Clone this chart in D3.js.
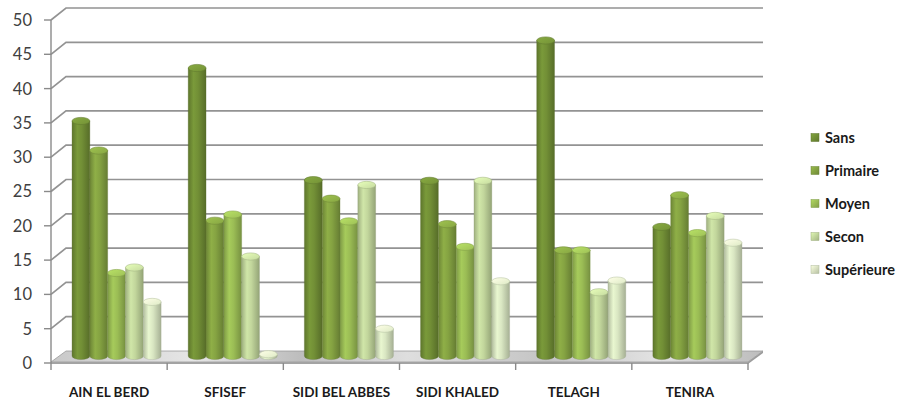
<!DOCTYPE html>
<html>
<head>
<meta charset="utf-8">
<script src="https://cdn.jsdelivr.net/npm/d3@7/dist/d3.min.js"></script>
<style>
  html, body { margin: 0; padding: 0; background: #ffffff; }
  svg { display: block; }
</style>
</head>
<body>
<svg id="chart" width="899" height="401"></svg>
<script>
// Communes and education levels (share of population, %)
const categories = ["AIN EL BERD", "SFISEF", "SIDI BEL ABBES", "SIDI KHALED", "TELAGH", "TENIRA"];
const seriesNames = ["Sans", "Primaire", "Moyen", "Secon", "Supérieure"];
const sans       = [34.8, 42.5, 26.2, 26.1, 46.5, 19.4];
const primaire   = [30.5, 20.3, 23.5, 19.8, 16.0, 24.0];
const moyen      = [12.7, 21.2, 20.2, 16.5, 16.0, 18.5];
const secon      = [13.5, 15.1, 25.5, 26.1,  9.9, 21.0];
const superieure = [ 8.5,  0.9,  4.6, 11.5, 11.6, 17.1];
const seriesValues = [sans, primaire, moyen, secon, superieure];
const yTicks = [0, 5, 10, 15, 20, 25, 30, 35, 40, 45, 50];
const seriesColors = ["#728f36", "#85a342", "#9bbd55", "#c2d69c", "#d9e6c2"];

const svg = d3.select("#chart");
const defs = svg.append("defs");

// 3D box geometry: front plane and back wall offset
const depthX = 15, depthY = -12;
const frontLeft = 51, frontRight = 748;
const yFront = d3.scaleLinear().domain([0, 50]).range([363, 20]);
const yBack = v => yFront(v) + depthY;

// Bars sit halfway through the depth
const x0 = d3.scaleBand().domain(categories)
  .range([frontLeft + depthX / 2, frontRight + depthX / 2]).paddingInner(0).paddingOuter(0);
const x1 = d3.scaleBand().domain(seriesNames)
  .range([0, x0.bandwidth()]).paddingInner(0).paddingOuter(0.76);
const yBar = d3.scaleLinear().domain([0, 50]).range([360.4, 16.4]);
const baseY = 356;
const capRy = 3.6;

// Gradients for cylinders and caps
seriesColors.forEach((c, i) => {
  const col = d3.color(c);
  const g = defs.append("linearGradient").attr("id", "cyl" + i)
    .attr("x1", "0%").attr("x2", "100%").attr("y1", "0%").attr("y2", "0%");
  g.append("stop").attr("offset", "0%").attr("stop-color", col.darker(0.55));
  g.append("stop").attr("offset", "30%").attr("stop-color", col.brighter(0.2));
  g.append("stop").attr("offset", "55%").attr("stop-color", col);
  g.append("stop").attr("offset", "100%").attr("stop-color", col.darker(0.75));
  const cg = defs.append("linearGradient").attr("id", "cap" + i)
    .attr("x1", "0%").attr("x2", "100%").attr("y1", "0%").attr("y2", "100%");
  cg.append("stop").attr("offset", "0%").attr("stop-color", col.brighter(0.5));
  cg.append("stop").attr("offset", "100%").attr("stop-color", col.brighter(0.05));
  const lg = defs.append("linearGradient").attr("id", "leg" + i)
    .attr("x1", "0%").attr("x2", "100%").attr("y1", "0%").attr("y2", "100%");
  lg.append("stop").attr("offset", "0%").attr("stop-color", col.brighter(0.4));
  lg.append("stop").attr("offset", "100%").attr("stop-color", col.darker(0.5));
});

// Floor gradient
const fg = defs.append("linearGradient").attr("id", "floor")
  .attr("x1", "0%").attr("x2", "100%").attr("y1", "0%").attr("y2", "0%");
[[0, "#c8c8c8"], [0.2, "#e6e6e6"], [0.35, "#bdbdbd"], [0.5, "#dedede"], [0.7, "#c4c4c4"], [0.85, "#e2e2e2"], [1, "#bcbcbc"]]
  .forEach(([o, c]) => fg.append("stop").attr("offset", o).attr("stop-color", c));

// Back wall gridlines with their diagonal runs on the side wall
const grid = svg.append("g").attr("fill", "none").attr("stroke", "#939393").attr("stroke-width", 1.7);
yTicks.filter(v => v > 0).forEach(v => {
  grid.append("path").attr("d",
    `M${frontLeft},${yFront(v)} L${frontLeft + depthX},${yBack(v)} H${frontRight + depthX}`);
});

// Floor
const floorTop = yBack(0), floorFront = yFront(0) - 1;
svg.append("path")
  .attr("d", `M${frontLeft + depthX},${floorTop} H${frontRight + depthX} L${frontRight},${floorFront} H${frontLeft} Z`)
  .attr("fill", "url(#floor)").attr("stroke", "#9a9a9a").attr("stroke-width", 0.8);
svg.append("rect").attr("x", frontLeft).attr("y", floorFront).attr("width", frontRight - frontLeft).attr("height", 2)
  .attr("fill", "#a3a3a3");
svg.append("path")
  .attr("d", `M${frontRight},${floorFront} L${frontRight + depthX},${floorTop} V${floorTop + 2} L${frontRight},${floorFront + 2} Z`)
  .attr("fill", "#9b9b9b");

// Y axis (front edge) with ticks and labels
const yAxis = svg.append("g");
yAxis.append("line").attr("x1", frontLeft).attr("x2", frontLeft)
  .attr("y1", yFront(50)).attr("y2", yFront(0)).attr("stroke", "#8a8a8a").attr("stroke-width", 1.4);
yAxis.selectAll("line.tick").data(yTicks).join("line").attr("class", "tick")
  .attr("x1", frontLeft - 7).attr("x2", frontLeft)
  .attr("y1", d => yFront(d)).attr("y2", d => yFront(d))
  .attr("stroke", "#8a8a8a").attr("stroke-width", 1.4);
yAxis.selectAll("text").data(yTicks).join("text")
  .attr("x", 32).attr("y", d => yFront(d)).attr("dy", "0.36em")
  .attr("text-anchor", "end")
  .attr("font-family", "Lato, 'Open Sans', sans-serif").attr("font-size", 16.5)
  .attr("fill", "#404040").text(d => d);

// X axis ticks and category labels
const xAxis = svg.append("g");
const boundaries = d3.range(categories.length + 1).map(i => frontLeft + i * (frontRight - frontLeft) / categories.length);
xAxis.selectAll("line").data(boundaries).join("line")
  .attr("x1", d => d).attr("x2", d => d).attr("y1", yFront(0)).attr("y2", yFront(0) + 7)
  .attr("stroke", "#8a8a8a").attr("stroke-width", 1.4);
xAxis.selectAll("text").data(categories).join("text")
  .attr("x", d => x0(d) - depthX / 2 + x0.bandwidth() / 2).attr("y", 397)
  .attr("text-anchor", "middle")
  .attr("font-family", "Lato, 'Open Sans', sans-serif").attr("font-weight", "bold").attr("font-size", 13.5)
  .attr("fill", "#1a1a1a").text(d => d);

// Cylinders
const bars = svg.append("g");
categories.forEach((cat, ci) => {
  seriesNames.forEach((s, si) => {
    const v = seriesValues[si][ci];
    const x = x0(cat) + x1(s);
    const w = x1.bandwidth();
    const rx = w / 2;
    const yc = yBar(v);
    const g = bars.append("g");
    g.append("path")
      .attr("d", `M${x},${yc} V${baseY} A${rx},${capRy} 0 0 0 ${x + w},${baseY} V${yc} Z`)
      .attr("fill", `url(#cyl${si})`)
      .attr("stroke", d3.color(seriesColors[si]).darker(0.9)).attr("stroke-width", 0.5).attr("stroke-opacity", 0.6);
    g.append("ellipse")
      .attr("cx", x + rx).attr("cy", yc).attr("rx", rx).attr("ry", capRy)
      .attr("fill", `url(#cap${si})`)
      .attr("stroke", d3.color(seriesColors[si]).darker(0.4)).attr("stroke-width", 0.6);
  });
});

// Legend
const legend = svg.append("g");
const legY = [138, 171, 204, 237, 270];
seriesNames.forEach((s, i) => {
  legend.append("rect").attr("x", 811).attr("y", legY[i] - 4.5).attr("width", 8).attr("height", 8)
    .attr("fill", `url(#leg${i})`).attr("stroke", d3.color(seriesColors[i]).darker(0.6)).attr("stroke-width", 0.5);
  legend.append("text").attr("x", 825).attr("y", legY[i]).attr("dy", "0.35em")
    .attr("font-family", "Lato, 'Open Sans', sans-serif").attr("font-weight", "bold").attr("font-size", 14.5)
    .attr("fill", "#1a1a1a").text(s);
});
</script>
</body>
</html>
